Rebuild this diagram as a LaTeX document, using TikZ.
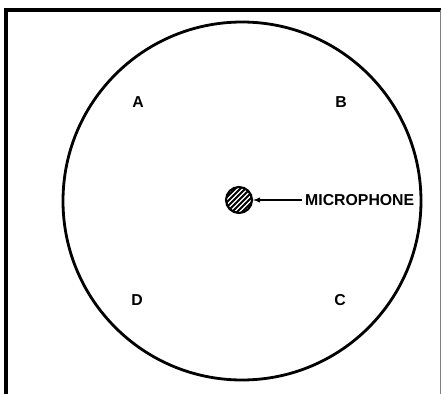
\documentclass[tikz,border=0pt]{standalone}
\usepackage{fontspec}
\setmainfont{Liberation Sans}
\usepackage{tikz}

\tikzset{
    lletra/.style={font=\fontsize{13.5}{15}\selectfont\bfseries, inner sep=0pt},
    micro/.style={circle, draw, line width=1.8pt, minimum size=26*0.03cm, inner sep=0pt}
}

\begin{document}
\begin{tikzpicture}[x=0.03cm, y=-0.03cm]
    \useasboundingbox (0,0) rectangle (443,394);

    % Marc (la vora de baix queda fora de la imatge)
    \draw[line width=3.4pt] (6,8.5) -- (6,394);
    \draw[line width=2.6pt] (4.5,10) -- (441,10);
    \draw[line width=1.1pt, gray] (440.5,10) -- (440.5,394);

    % Sala circular
    \draw[line width=2.4pt] (242,201) circle (179);

    % Posicions
    \node[lletra] (A) at (138,102) {A};
    \node[lletra] (B) at (341,102) {B};
    \node[lletra] (D) at (137,300) {D};
    \node[lletra] (C) at (340,300) {C};

    % Micròfon al centre, ratllat
    \begin{scope}
        \clip (239,200) circle (13);
        \foreach \k in {-30,-25,...,30}
            \draw[line width=1.6pt] (239+\k-20,220) -- (239+\k+20,180);
    \end{scope}
    \node[micro] (mic) at (239,200) {};

    % Etiqueta i fletxa
    \node[lletra, anchor=west] (etiq) at (305,200) {MICROPHONE};
    \draw[line width=1.1pt, -latex] (etiq.west) ++(-3,0) -- (mic.east);
\end{tikzpicture}
\end{document}
